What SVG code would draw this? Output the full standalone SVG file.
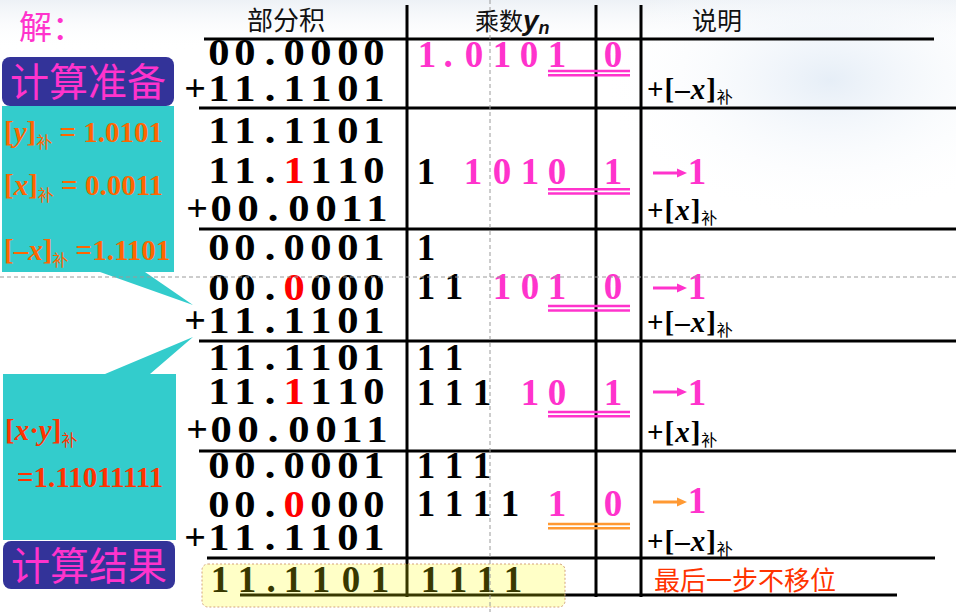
<svg xmlns="http://www.w3.org/2000/svg" width="956" height="612" viewBox="0 0 956 612">
<defs>
<radialGradient id="bg1" cx="0.5" cy="0.5" r="0.5">
<stop offset="0" stop-color="#e6eef7"/>
<stop offset="1" stop-color="#ffffff" stop-opacity="0"/>
</radialGradient>
<linearGradient id="bg2" x1="0" y1="0" x2="0" y2="1">
<stop offset="0" stop-color="#edf1f6"/>
<stop offset="1" stop-color="#ffffff" stop-opacity="0"/>
</linearGradient>
<style>
.cjk{font-family:"Noto Sans CJK SC","Noto Sans",sans-serif}
.pp{font-family:"Liberation Serif",serif;font-weight:bold;font-size:37px;fill:#000;text-anchor:middle}
.mu{font-family:"Liberation Serif",serif;font-weight:bold;font-size:37px;fill:#000;text-anchor:middle}
.plus{font-family:"Liberation Serif",serif;font-weight:bold;font-size:38px;fill:#000;text-anchor:middle}
.pk{fill:#ff33cc}
.red{fill:#ff0000}
.note{font-family:"Liberation Serif",serif;font-weight:bold;font-size:29px;fill:#000;letter-spacing:1px}
.it{font-style:italic}
.sb{font-family:"Noto Sans CJK SC",sans-serif;font-weight:normal;font-size:16px;letter-spacing:0}
.grid{stroke:#000;stroke-width:3;fill:none}
.dbl{stroke:#ff33cc;stroke-width:2.4}
.dblo{stroke:#ff9933;stroke-width:2.4}
.cl{font-family:"Liberation Serif",serif;font-weight:bold;font-size:29px}
.guide{stroke:#9a9a9a;stroke-width:1;stroke-dasharray:4 3;fill:none}
.hdr{font-family:"Noto Sans CJK SC",sans-serif;fill:#111}
</style>
</defs>
<rect width="956" height="612" fill="#ffffff"/>
<rect x="0" y="0" width="956" height="50" fill="url(#bg2)"/>
<ellipse cx="830" cy="80" rx="230" ry="140" fill="url(#bg1)"/>

<g id="title">
<text class="cjk" x="19" y="39" font-size="33" fill="#ff33cc">解：</text>
</g>

<g id="headers">
<text class="hdr" x="286" y="30" font-size="26" text-anchor="middle">部分积</text>
<text class="hdr" x="475" y="30" font-size="24">乘数<tspan font-family="Liberation Sans, sans-serif" font-weight="bold" font-style="italic" font-size="28">y</tspan><tspan font-family="Liberation Sans, sans-serif" font-weight="bold" font-style="italic" font-size="18" dy="4">n</tspan></text>
<text class="hdr" x="692" y="30" font-size="25">说明</text>
</g>

<g id="prep-box">
<rect x="2" y="57" width="172" height="49" rx="8" fill="#333399"/>
<text class="cjk" x="88" y="96" font-size="39" fill="#ff33cc" text-anchor="middle">计算准备</text>
</g>

<g id="callout-operands">
<path d="M2,106 H174 V272 H145 L193,305 L100,272 H2 Z" fill="#33cccc"/>
<text class="cl" x="4" y="142" fill="#ff6600">[<tspan class="it">y</tspan>]<tspan class="sb" font-size="17" dy="6">补</tspan><tspan dy="-6"> = 1.0101</tspan></text>
<text class="cl" x="4" y="195" fill="#ff6600">[<tspan class="it">x</tspan>]<tspan class="sb" font-size="17" dy="6">补</tspan><tspan dy="-6"> = 0.0011</tspan></text>
<text class="cl" x="4" y="260" fill="#ff6600">[–<tspan class="it">x</tspan>]<tspan class="sb" font-size="17" dy="6">补</tspan><tspan dy="-6"> =1.1101</tspan></text>
</g>

<g id="callout-result">
<path d="M3,374 H105 L193,337 L150,374 H176 V540 H3 Z" fill="#33cccc"/>
<text class="cl" x="5" y="440" fill="#ff3300">[<tspan class="it">x</tspan>·<tspan class="it">y</tspan>]<tspan class="sb" font-size="17" dy="6">补</tspan></text>
<text class="cl" x="17" y="487" fill="#ff3300">=1.11011111</text>
</g>

<g id="result-box">
<rect x="3" y="541" width="172" height="48" rx="8" fill="#333399"/>
<text class="cjk" x="89" y="580" font-size="39" fill="#ff33cc" text-anchor="middle">计算结果</text>
</g>

<g id="connectors">
<line class="grid" x1="204" y1="39" x2="934" y2="39"/>
<line class="grid" x1="199" y1="108" x2="956" y2="108"/>
<line class="grid" x1="199" y1="229" x2="956" y2="229"/>
<line class="grid" x1="199" y1="341" x2="956" y2="341"/>
<line class="grid" x1="199" y1="451" x2="956" y2="451"/>
<line class="grid" x1="207" y1="558" x2="935" y2="558"/>
<line class="grid" x1="240" y1="595" x2="897" y2="595"/>
<line class="grid" x1="407" y1="5" x2="407" y2="597"/>
<line class="grid" x1="596" y1="5" x2="596" y2="597"/>
<line class="grid" x1="641" y1="5" x2="641" y2="597"/>
</g>

<g id="partial-products">
<g transform="scale(1.15 1)">
<text class="pp" x="190.4 213 234.8 255.7 279.1 302.6 325.2" y="65">00.0000</text>
<text class="pp" x="190.4 213 234.8 255.7 279.1 302.6 325.2" y="101">11.1101</text>
<text class="pp" x="190.4 213 234.8 255.7 279.1 302.6 325.2" y="143">11.1101</text>
<text class="pp" x="190.4 213 234.8" y="183">11.<tspan class="red" x="255.7">1</tspan><tspan x="279.1 302.6 325.2">110</tspan></text>
<text class="pp" x="192.2 215.7 237.4 260 283.5 306.1 327.8" y="221">00.0011</text>
<text class="pp" x="190.4 213 234.8 255.7 279.1 302.6 325.2" y="260">00.0001</text>
<text class="pp" x="190.4 213 234.8" y="300">00.<tspan class="red" x="255.7">0</tspan><tspan x="279.1 302.6 325.2">000</tspan></text>
<text class="pp" x="190.4 213 234.8 255.7 279.1 302.6 325.2" y="333">11.1101</text>
<text class="pp" x="190.4 213 234.8 255.7 279.1 302.6 325.2" y="370">11.1101</text>
<text class="pp" x="190.4 213 234.8" y="404">11.<tspan class="red" x="255.7">1</tspan><tspan x="279.1 302.6 325.2">110</tspan></text>
<text class="pp" x="192.2 215.7 237.4 260 283.5 306.1 327.8" y="442">00.0011</text>
<text class="pp" x="190.4 213 234.8 255.7 279.1 302.6 325.2" y="478">00.0001</text>
<text class="pp" x="190.4 213 234.8" y="517">00.<tspan class="red" x="255.7">0</tspan><tspan x="279.1 302.6 325.2">000</tspan></text>
<text class="pp" x="190.4 213 234.8 255.7 279.1 302.6 325.2" y="550">11.1101</text>
</g>
<text class="plus" x="195" y="101">+</text>
<text class="plus" x="197" y="221">+</text>
<text class="plus" x="195" y="333">+</text>
<text class="plus" x="197" y="442">+</text>
<text class="plus" x="195" y="550">+</text>
</g>

<g id="multiplier">
<text class="mu pk" x="427 448 474 502 529 557 613" y="67">1.01010</text>
<text class="mu" x="426" y="184">1</text>
<text class="mu pk" x="473 502 530 557 613" y="184">10101</text>
<text class="mu" x="426" y="260">1</text>
<text class="mu" x="426 454" y="299">11</text>
<text class="mu pk" x="502 530 557 613" y="299">1010</text>
<text class="mu" x="426 454" y="370">11</text>
<text class="mu" x="426 454 482" y="405">111</text>
<text class="mu pk" x="530 557 613" y="405">101</text>
<text class="mu" x="426 454 482" y="478">111</text>
<text class="mu" x="426 454 482 510" y="516">1111</text>
<text class="mu pk" x="557 613" y="516">10</text>
<line class="dbl" x1="548" y1="71" x2="630" y2="71"/>
<line class="dbl" x1="548" y1="75.3" x2="630" y2="75.3"/>
<line class="dbl" x1="548" y1="189.3" x2="630" y2="189.3"/>
<line class="dbl" x1="548" y1="193.5" x2="630" y2="193.5"/>
<line class="dbl" x1="548" y1="306" x2="630" y2="306"/>
<line class="dbl" x1="548" y1="310.5" x2="630" y2="310.5"/>
<line class="dbl" x1="548" y1="412" x2="630" y2="412"/>
<line class="dbl" x1="548" y1="416.3" x2="630" y2="416.3"/>
<line class="dblo" x1="548" y1="524" x2="630" y2="524"/>
<line class="dblo" x1="548" y1="528.3" x2="630" y2="528.3"/>
</g>

<g id="notes">
<text class="note" x="647" y="99">+[–<tspan class="it">x</tspan>]<tspan class="sb" dy="4">补</tspan></text>
<g fill="#ff33cc" stroke="#ff33cc">
<line x1="653" y1="173" x2="679" y2="173" stroke-width="3"/>
<polygon points="677,168.5 687,173 677,177.5" stroke="none"/>
</g>
<text class="mu pk" x="697" y="184">1</text>
<text class="note" x="647" y="220">+[<tspan class="it">x</tspan>]<tspan class="sb" dy="4">补</tspan></text>
<g fill="#ff33cc" stroke="#ff33cc">
<line x1="653" y1="288" x2="679" y2="288" stroke-width="3"/>
<polygon points="677,283.5 687,288 677,292.5" stroke="none"/>
</g>
<text class="mu pk" x="697" y="299">1</text>
<text class="note" x="647" y="332">+[–<tspan class="it">x</tspan>]<tspan class="sb" dy="4">补</tspan></text>
<g fill="#ff33cc" stroke="#ff33cc">
<line x1="653" y1="392" x2="679" y2="392" stroke-width="3"/>
<polygon points="677,387.5 687,392 677,396.5" stroke="none"/>
</g>
<text class="mu pk" x="697" y="405">1</text>
<text class="note" x="647" y="442">+[<tspan class="it">x</tspan>]<tspan class="sb" dy="4">补</tspan></text>
<g fill="#ff9933" stroke="#ff9933">
<line x1="653" y1="502" x2="679" y2="502" stroke-width="3"/>
<polygon points="677,497.5 687,502 677,506.5" stroke="none"/>
</g>
<text class="mu pk" x="697" y="513">1</text>
<text class="note" x="647" y="551">+[–<tspan class="it">x</tspan>]<tspan class="sb" dy="4">补</tspan></text>
<text class="cjk" x="654" y="590" font-size="26" fill="#ff3300">最后一步不移位</text>
</g>

<g id="final-result">
<text class="mu" font-size="38" x="220 247 271 293 321 351 380" y="592">11.1101</text>
<text class="mu" font-size="38" x="430 458 486 513" y="592">1111</text>
<rect x="202" y="564" width="363" height="43" rx="6" fill="#ffff00" fill-opacity="0.22" stroke="#d4a27a" stroke-width="1" stroke-dasharray="2 2"/>
</g>

<g id="guides">
<line class="guide" x1="490" y1="0" x2="490" y2="612"/>
<line class="guide" x1="0" y1="277" x2="956" y2="277"/>
</g>
</svg>
